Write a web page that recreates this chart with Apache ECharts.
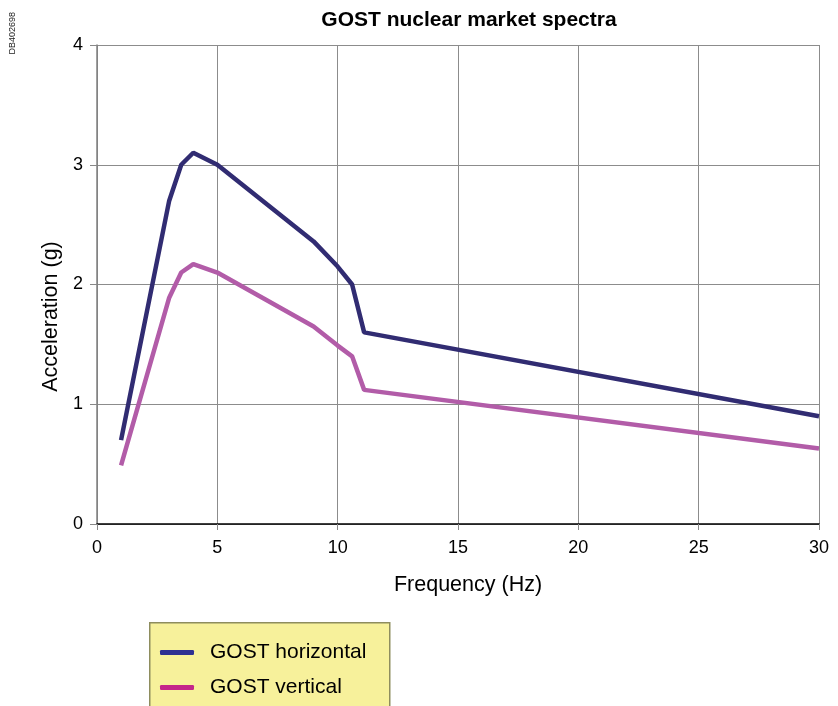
<!DOCTYPE html>
<html>
<head>
<meta charset="utf-8">
<script src="https://cdn.jsdelivr.net/npm/echarts@6/dist/echarts.min.js"></script>
<style>html,body{margin:0;padding:0;background:#fff;}#c{width:838px;height:706px;}</style>
</head>
<body>
<div id="c"></div>
<script>
var freqH = [1, 3, 3.5, 4, 5, 9, 10, 10.6, 11.1, 30];
var accelH = [0.70, 2.70, 3.00, 3.10, 3.00, 2.36, 2.15, 2.00, 1.60, 0.90];
var freqV = [1, 3, 3.5, 4, 5, 9, 10, 10.6, 11.1, 30];
var accelV = [0.49, 1.89, 2.10, 2.17, 2.10, 1.65, 1.49, 1.40, 1.12, 0.63];
var seriesNames = ['GOST horizontal', 'GOST vertical'];
var xTicks = [0, 5, 10, 15, 20, 25, 30];
var yTicks = [0, 1, 2, 3, 4];

function pairs(xs, ys) { return xs.map(function (x, i) { return [x, ys[i]]; }); }

var chart = echarts.init(document.getElementById('c'));
var font = 'Liberation Sans, Arial, sans-serif';
chart.setOption({
  animation: false,
  title: {
    text: 'GOST nuclear market spectra',
    left: 464, top: 5, textAlign: 'center',
    textStyle: { fontFamily: font, fontSize: 21, fontWeight: 'bold', color: '#000' }
  },
  grid: { left: 97, right: 19, top: 45, bottom: 182, containLabel: false },
  xAxis: {
    type: 'value', min: xTicks[0], max: xTicks[xTicks.length - 1], interval: 5,
    name: 'Frequency (Hz)', nameLocation: 'middle', nameGap: 50,
    nameTextStyle: { fontFamily: font, fontSize: 21.5, color: '#000', padding: [0, 0, 0, 20] },
    axisLine: { show: true, onZero: false, lineStyle: { color: '#000', width: 1.5 } },
    axisTick: { show: true, length: 6, lineStyle: { color: '#888' } },
    axisLabel: { fontFamily: font, fontSize: 18, color: '#000', margin: 15 },
    splitLine: { show: true, lineStyle: { color: '#8c8c8c', width: 1 } }
  },
  yAxis: {
    type: 'value', min: yTicks[0], max: yTicks[yTicks.length - 1], interval: 1,
    name: 'Acceleration (g)', nameLocation: 'middle', nameGap: 33, nameRotate: 90,
    nameTextStyle: { fontFamily: font, fontSize: 21.5, color: '#000', padding: [0, 64, 0, 0] },
    axisLine: { show: true, lineStyle: { color: '#808080', width: 1.5 } },
    axisTick: { show: true, length: 7, lineStyle: { color: '#888' } },
    axisLabel: { fontFamily: font, fontSize: 18, color: '#000', margin: 14 },
    splitLine: { show: true, lineStyle: { color: '#8c8c8c', width: 1 } }
  },
  legend: {
    orient: 'vertical', left: 155, top: 637,
    itemWidth: 34, itemHeight: 5, itemGap: 14,
    icon: 'roundRect',
    textStyle: { fontFamily: font, fontSize: 21, color: '#000', padding: [0, 0, 0, 11] },
    data: [
      { name: seriesNames[0], itemStyle: { color: '#2e3192' } },
      { name: seriesNames[1], itemStyle: { color: '#c4268a' } }
    ]
  },
  graphic: [
    { type: 'rect', left: 149, top: 622, z: -1,
      shape: { width: 240, height: 100 },
      style: { fill: '#f7f19b', stroke: '#8e8d5e', lineWidth: 1.5 } },
    { type: 'text', left: 8, top: 12, rotation: Math.PI / 2, z: 10,
      style: { text: 'DB402698', fontFamily: font, fontSize: 9, fill: '#222' } }
  ],
  series: [
    { name: seriesNames[0], type: 'line', data: pairs(freqH, accelH), showSymbol: false,
      lineStyle: { color: '#312c72', width: 4.5 }, itemStyle: { color: '#312c72' } },
    { name: seriesNames[1], type: 'line', data: pairs(freqV, accelV), showSymbol: false,
      lineStyle: { color: '#b25ca8', width: 4.5 }, itemStyle: { color: '#b25ca8' } }
  ]
});
</script>
</body>
</html>
